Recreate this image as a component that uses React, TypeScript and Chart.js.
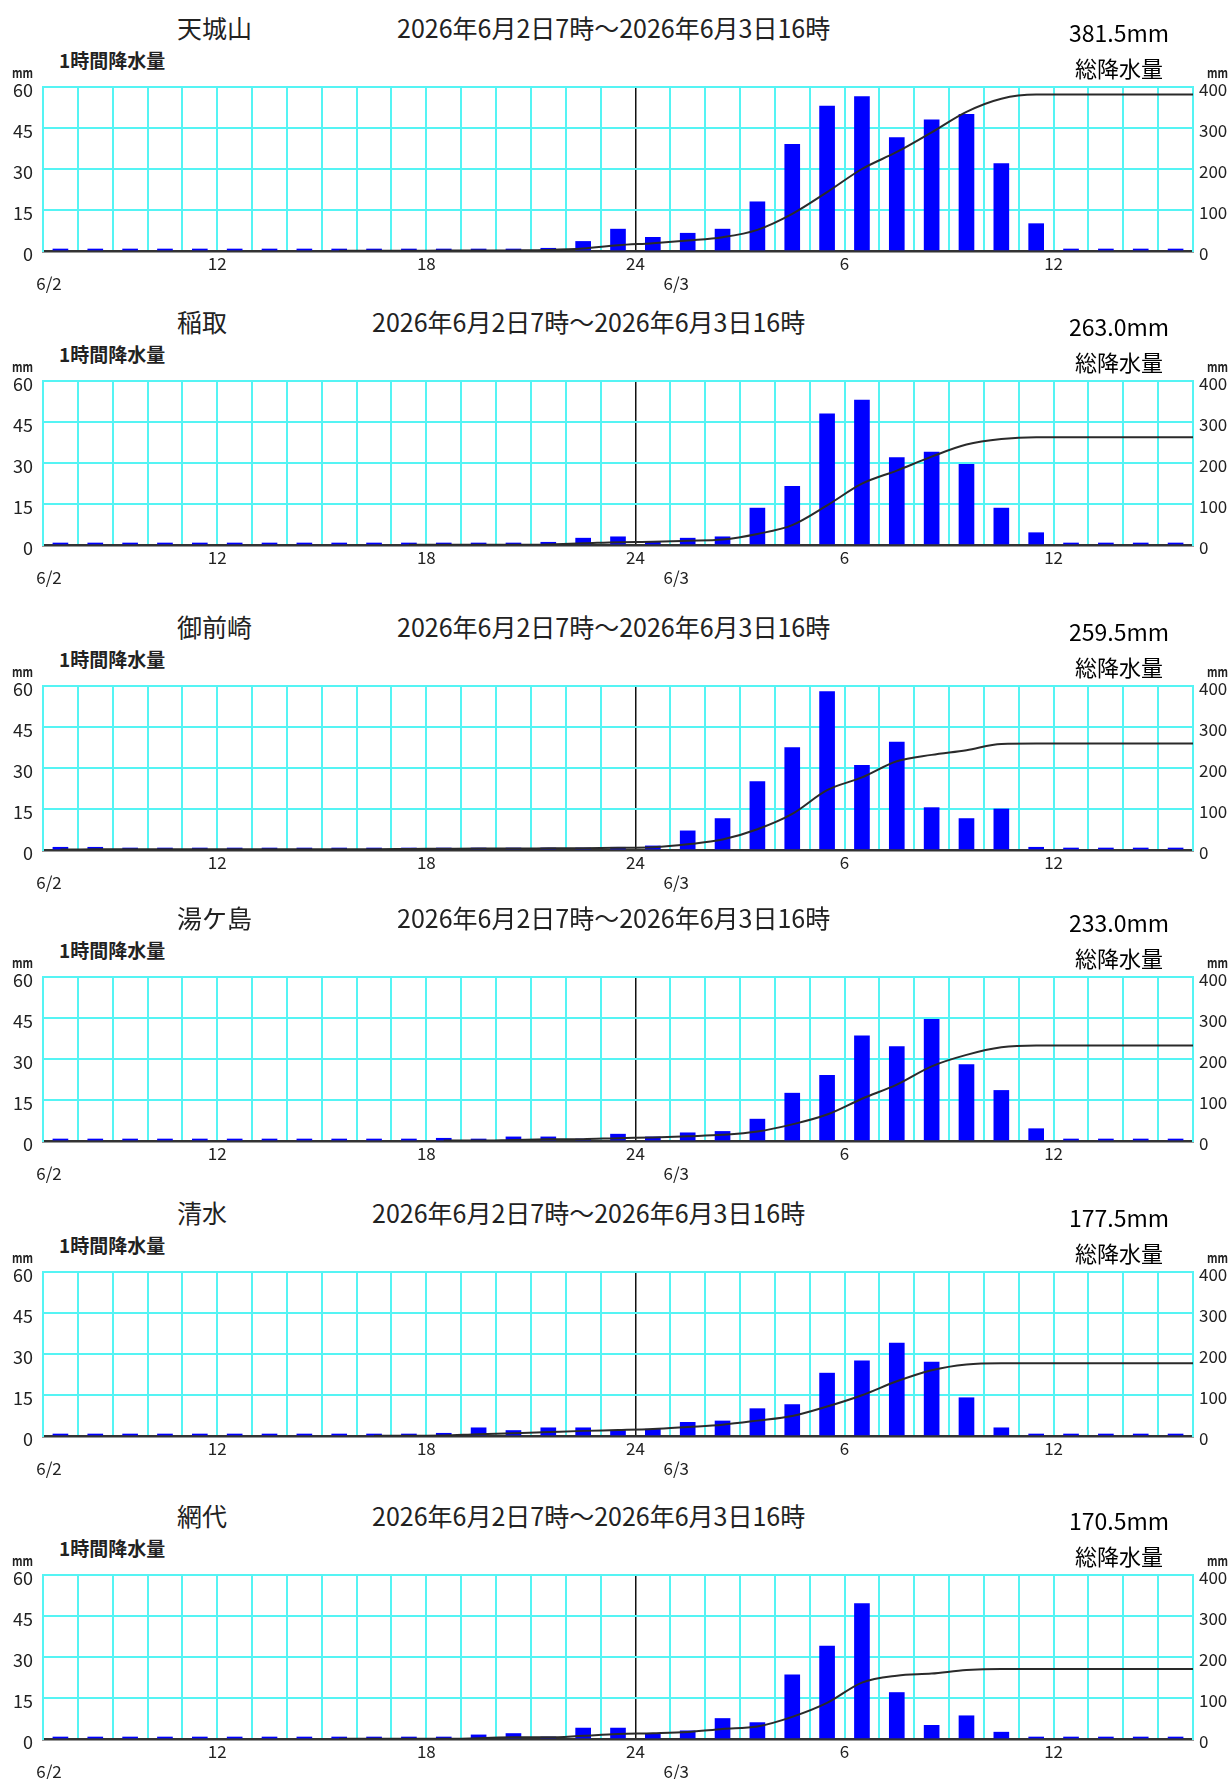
import React, { useEffect, useRef } from 'react';
import { Chart, registerables } from 'chart.js';

Chart.register(...registerables);

// ---------------- data ----------------
// 33 hourly slots: 6/2 7-8時 ... 6/3 15-16時
const stationNames = ['天城山', '稲取', '御前崎', '湯ケ島', '清水', '網代'];
const periodLabel = '2026年6月2日7時～2026年6月3日16時';
const totalLabels = ['381.5mm', '263.0mm', '259.5mm', '233.0mm', '177.5mm', '170.5mm'];

const rainAmagisan = [0, 0, 0, 0, 0, 0, 0, 0, 0.5, 0, 0, 0.5, 0, 0.5, 1, 3.5, 8, 5, 6.5, 8, 18, 39, 53, 56.5, 41.5, 48, 50, 32, 10, 0, 0, 0, 0];
const rainInatori = [0, 0, 0, 0, 0, 0, 0, 0, 0, 0, 0.5, 0, 0, 0, 1, 2.5, 3, 1, 2.5, 3, 13.5, 21.5, 48, 53, 32, 34, 29.5, 13.5, 4.5, 0, 0, 0, 0];
const rainOmaezaki = [1, 1, 0, 0, 0, 0, 0, 0, 0, 0, 0.5, 0.5, 0.5, 0, 0.5, 0.5, 1, 1.5, 7, 11.5, 25, 37.5, 58, 31, 39.5, 15.5, 11.5, 15, 1, 0, 0, 0, 0];
const rainYugashima = [0, 0, 0, 0, 0, 0, 0, 0, 0, 0, 0, 1, 0, 1.5, 1.5, 0.5, 2.5, 1.5, 3, 3.5, 8, 17.5, 24, 38.5, 34.5, 44.5, 28, 18.5, 4.5, 0, 0, 0, 0];
const rainShimizu = [0, 0, 0, 0, 0, 0, 0, 0, 0, 0.5, 0, 1, 3, 2, 3, 3, 2, 2.5, 5, 5.5, 10, 11.5, 23, 27.5, 34, 27, 14, 3, 0, 0, 0, 0, 0];
const rainAjiro = [0, 0, 0, 0, 0, 0, 0, 0, 0.5, 0, 0, 0, 1.5, 2, 0, 4, 4, 2, 3, 7.5, 6, 23.5, 34, 49.5, 17, 5, 8.5, 2.5, 0, 0, 0, 0, 0];

const stationRain = [rainAmagisan, rainInatori, rainOmaezaki, rainYugashima, rainShimizu, rainAjiro];

const hourTickIndex = [5, 11, 17, 23, 29];
const hourTickText = ['12', '18', '24', '6', '12'];
const dateTickIndex = [0, 18];
const dateTickText = ['6/2', '6/3'];
const dayBoundaryIndex = 17;
const slotCount = 33;

// ---------------- layout ----------------
const PANEL_TOPS = [87, 381, 686, 977, 1272, 1575];
const PLOT_H = 164;
const LEFT_W = 43;
const RIGHT_W = 37;
const PAD_TOP = 12;
const X_H = 20;
const X2_H = 30;
const CYAN = '#55F4F4';
const TEXT = '#222';
const JP = '"Noto Sans CJK JP", "Noto Sans", sans-serif';

function cumulative(values: number[]) {
  const first = values.findIndex((v) => v > 0);
  const pts: { x: number; y: number }[] = [];
  let sum = 0;
  values.forEach((v, i) => {
    sum += v;
    if (first >= 0 && i >= first) pts.push({ x: i + 0.5, y: sum });
  });
  pts.push({ x: slotCount, y: sum });
  return pts;
}

const zeroPad = (s: any) => {
  s.paddingTop = 0;
  s.paddingBottom = 0;
  s.paddingLeft = 0;
  s.paddingRight = 0;
};

function Panel({ idx }: { idx: number }) {
  const ref = useRef<HTMLCanvasElement | null>(null);
  const T = PANEL_TOPS[idx];
  const values = stationRain[idx];

  useEffect(() => {
    if (!ref.current) return;
    const tickFont = { family: JP, size: 17 };
    const chart = new Chart(ref.current, {
      type: 'bar',
      data: {
        datasets: [
          {
            type: 'line',
            data: cumulative(values),
            xAxisID: 'x',
            yAxisID: 'y2',
            borderColor: '#2a2a2a',
            borderWidth: 2,
            pointRadius: 0,
            cubicInterpolationMode: 'monotone',
            order: 0,
          } as any,
          {
            type: 'bar',
            data: values.map((v, i) => ({ x: i + 0.5, y: v })),
            xAxisID: 'x',
            yAxisID: 'y',
            backgroundColor: '#0000FF',
            borderWidth: 0,
            barThickness: 15,
            minBarLength: 2,
            order: 1,
          } as any,
        ],
      },
      options: {
        animation: false,
        responsive: false,
        maintainAspectRatio: false,
        devicePixelRatio: 1,
        layout: { padding: { top: PAD_TOP, bottom: 0, left: 0, right: 0 } },
        plugins: { legend: { display: false }, tooltip: { enabled: false } },
        scales: {
          x: {
            type: 'linear',
            position: 'bottom',
            weight: 0,
            min: 0,
            max: slotCount,
            offset: false,
            afterBuildTicks: (s: any) => {
              s.ticks = Array.from({ length: slotCount + 1 }, (_, i) => ({ value: i }));
            },
            afterFit: (s: any) => {
              s.height = X_H;
              zeroPad(s);
            },
            ticks: {
              autoSkip: false,
              maxRotation: 0,
              padding: 2,
              color: TEXT,
              font: tickFont,
              callback: (v: any) => {
                const k = hourTickIndex.indexOf(Number(v));
                return k >= 0 ? hourTickText[k] : '';
              },
            },
            grid: {
              offset: false,
              drawTicks: false,
              color: (ctx: any) => (ctx.tick && ctx.tick.value === dayBoundaryIndex ? '#111' : CYAN),
              lineWidth: (ctx: any) => (ctx.tick && ctx.tick.value === dayBoundaryIndex ? 1.5 : 2),
            },
            border: { display: true, color: '#333', width: 2.5 },
          },
          x2: {
            type: 'linear',
            position: 'bottom',
            weight: 1,
            min: 0,
            max: slotCount,
            offset: false,
            afterBuildTicks: (s: any) => {
              s.ticks = dateTickIndex.map((v) => ({ value: v }));
            },
            afterFit: (s: any) => {
              s.height = X2_H;
              zeroPad(s);
            },
            ticks: {
              autoSkip: false,
              maxRotation: 0,
              padding: 2,
              labelOffset: 6,
              color: TEXT,
              font: tickFont,
              callback: (v: any) => {
                const k = dateTickIndex.indexOf(Number(v));
                return k >= 0 ? dateTickText[k] : '';
              },
            },
            grid: { display: false, drawTicks: false, offset: false },
            border: { display: false },
          },
          y: {
            position: 'left',
            min: 0,
            max: 60,
            afterFit: (s: any) => {
              s.width = LEFT_W;
              zeroPad(s);
            },
            ticks: { stepSize: 15, padding: 10, labelOffset: 3, color: TEXT, font: { family: JP, size: 18 } },
            grid: { color: CYAN, lineWidth: 2, drawTicks: false },
            border: { display: true, color: CYAN, width: 2 },
          },
          y2: {
            position: 'right',
            min: 0,
            max: 400,
            afterFit: (s: any) => {
              s.width = RIGHT_W;
              zeroPad(s);
            },
            ticks: { stepSize: 100, padding: 6, labelOffset: 3, color: TEXT, font: tickFont },
            grid: { display: false, drawTicks: false },
            border: { display: true, color: CYAN, width: 2 },
          },
        },
      } as any,
    });
    return () => chart.destroy();
  }, [idx]);

  const canvasH = PAD_TOP + PLOT_H + X_H + X2_H;
  const abs = (top: number, extra: React.CSSProperties): React.CSSProperties => ({
    position: 'absolute',
    top,
    whiteSpace: 'nowrap',
    color: TEXT,
    fontFamily: JP,
    ...extra,
  });
  const mmStyle = (left: number) =>
    abs(T - 15 - 9, {
      left,
      height: 18,
      lineHeight: '18px',
      fontSize: 14,
      fontWeight: 700,
      transform: 'scaleX(0.78)',
      transformOrigin: 'left center',
    });

  return (
    <>
      <canvas
        ref={ref}
        width={1230}
        height={canvasH}
        style={{ position: 'absolute', left: 0, top: T - PAD_TOP, width: 1230, height: canvasH }}
      />
      <div style={abs(T - 60 - 15, { left: 177, height: 30, lineHeight: '30px', fontSize: 25, display: 'flex' })}>
        <span>{stationNames[idx]}</span>
        <span style={{ marginLeft: 145 }}>{periodLabel}</span>
      </div>
      <div style={abs(T - 27 - 12, { left: 59, height: 24, lineHeight: '24px', fontSize: 19, fontWeight: 700 })}>
        1時間降水量
      </div>
      <div style={mmStyle(12)}>mm</div>
      <div style={mmStyle(1207)}>mm</div>
      <div
        style={abs(T - 55 - 15, {
          left: 1019,
          width: 200,
          textAlign: 'center',
          height: 30,
          lineHeight: '30px',
          fontSize: 23,
          color: '#000',
        })}
      >
        {totalLabels[idx]}
      </div>
      <div
        style={abs(T - 20 - 14, {
          left: 1019,
          width: 200,
          textAlign: 'center',
          height: 28,
          lineHeight: '28px',
          fontSize: 22,
          color: '#000',
        })}
      >
        総降水量
      </div>
    </>
  );
}

export default function App() {
  return (
    <div style={{ position: 'absolute', left: 0, top: 0, width: 1230, height: 1779, background: '#fff', overflow: 'hidden' }}>
      {stationNames.map((_, i) => (
        <Panel key={i} idx={i} />
      ))}
    </div>
  );
}
